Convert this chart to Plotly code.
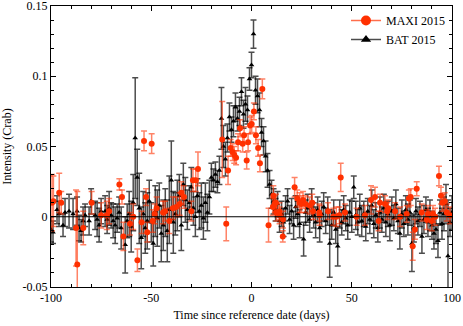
import plotly.graph_objects as go

# MAXI 2015 light curve (days, Crab, 1-sigma)
maxi_day = [-99.5, -98.8, -95.9, -94.9, -87.5, -86.9, -83.9, -79.7, -75.0, -72.2,
            -71.0, -65.9, -64.6, -63.9, -60.6, -59.0, -56.9, -54.8, -53.6, -52.6,
            -52.0, -49.8, -49.3, -48.3, -47.3, -44.1, -43.1, -41.0, -39.2, -37.5,
            -35.8, -35.0, -33.7, -30.0, -29.2, -27.8, -26.7, -14.6, -12.6, -11.7,
            -10.4, -9.4, -8.6, -7.7, -6.7, -5.7, -4.4, -3.7, -2.4, -1.7,
            -0.7, 0.1, 1.2, 2.2, 3.3, 4.2, 5.4, 8.5, 10.7, 10.9,
            11.6, 12.2, 12.4, 13.9, 14.0, 15.6, 15.7, 21.5, 22.8, 24.0,
            24.8, 25.7, 26.9, 29.0, 30.3, 30.7, 33.8, 34.0, 38.2, 40.8,
            42.3, 43.8, 44.5, 46.6, 52.4, 56.6, 59.6, 61.6, 63.4, 64.1,
            66.6, 67.7, 68.2, 71.6, 74.1, 77.4, 78.5, 79.4, 80.4, 81.5,
            82.4, 84.9, 87.4, 88.0, 89.9, 90.5, 91.6, 93.5, 94.5, 95.2,
            96.4, 97.4, 99.0]
maxi_rate = [0.010, 0.011, 0.017, 0.010, -0.008, -0.034, -0.008, 0.010, 0.001, 0.001,
             0.004, 0.023, 0.014, -0.014, -0.005, 0.000, -0.031, -0.004, 0.054, 0.014,
             -0.011, 0.052, -0.003, 0.002, 0.006, 0.003, 0.004, -0.003, 0.006, 0.007,
             0.009, 0.017, 0.014, 0.004, 0.026, 0.026, 0.034, 0.055, -0.005, 0.033,
             0.049, 0.046, 0.044, 0.042, 0.053, 0.063, 0.052, 0.058, 0.040, 0.053,
             0.065, 0.066, 0.075, 0.058, 0.049, 0.038, 0.091, -0.006, 0.007, 0.015,
             0.009, 0.010, 0.003, 0.004, 0.001, -0.014, -0.002, 0.021, 0.013, 0.010,
             0.009, 0.012, 0.009, 0.008, 0.010, 0.004, 0.003, 0.001, 0.004, 0.000,
             0.000, 0.001, 0.028, 0.003, 0.000, 0.001, 0.012, 0.014, -0.003, 0.010,
             0.009, 0.004, 0.006, 0.004, 0.000, 0.002, 0.013, 0.014, -0.021, -0.009,
             0.020, 0.003, -0.002, 0.002, -0.003, 0.002, 0.000, 0.029, 0.015, 0.010,
             0.011, 0.003, 0.001]
maxi_err = [0.020, 0.018, 0.014, 0.008, 0.027, 0.052, 0.012, 0.008, 0.009, 0.010,
            0.009, 0.004, 0.005, 0.010, 0.008, 0.009, 0.008, 0.008, 0.007, 0.006,
            0.007, 0.007, 0.008, 0.007, 0.008, 0.008, 0.007, 0.009, 0.008, 0.007,
            0.008, 0.008, 0.008, 0.007, 0.008, 0.008, 0.012, 0.027, 0.012, 0.010,
            0.006, 0.006, 0.006, 0.005, 0.006, 0.006, 0.006, 0.006, 0.006, 0.006,
            0.006, 0.006, 0.006, 0.006, 0.006, 0.006, 0.007, 0.012, 0.006, 0.007,
            0.006, 0.006, 0.006, 0.006, 0.006, 0.004, 0.006, 0.007, 0.006, 0.007,
            0.006, 0.006, 0.006, 0.006, 0.006, 0.006, 0.006, 0.007, 0.006, 0.006,
            0.007, 0.006, 0.010, 0.006, 0.006, 0.007, 0.010, 0.007, 0.007, 0.006,
            0.006, 0.006, 0.006, 0.006, 0.007, 0.006, 0.006, 0.006, 0.010, 0.007,
            0.005, 0.006, 0.007, 0.006, 0.007, 0.006, 0.006, 0.007, 0.006, 0.006,
            0.006, 0.006, 0.006]

# BAT 2015 light curve
bat_day = [-100, -99, -97, -96, -94, -93, -91, -89, -87, -86,
           -85, -84, -83, -81, -80, -78, -77, -76, -75, -73,
           -72, -71, -70, -69, -68, -67, -66, -65, -63, -62,
           -61, -60, -59, -58, -57, -56, -55, -54, -53, -52,
           -51, -50, -49, -48, -47, -46, -45, -44, -43, -42,
           -41, -40, -39, -38, -37, -36, -35, -34, -33, -32,
           -31, -30, -29, -28, -27, -26, -25, -24, -23, -22,
           -21, -20, -19, -18, -17, -16, -15, -14, -13, -12,
           -11, -10, -9, -8, -7, -6, -5, -4, -3, -2,
           -1, 0, 1, 2, 3, 4, 5, 6, 7, 8,
           9, 10, 11, 12, 13, 14, 15, 16, 17, 18,
           19, 20, 21, 22, 23, 24, 26, 27, 28, 29,
           30, 31, 32, 33, 34, 35, 36, 37, 38, 39,
           40, 41, 42, 43, 44, 45, 46, 47, 48, 49,
           50, 51, 52, 53, 54, 55, 56, 57, 58, 59,
           60, 61, 62, 63, 64, 65, 66, 67, 68, 69,
           70, 71, 72, 73, 74, 75, 76, 77, 78, 79,
           80, 81, 82, 83, 84, 85, 86, 87, 88, 89,
           90, 91, 92, 93, 94, 95, 96, 97, 98, 99,
           100]
bat_rate = [-0.009, -0.011, 0.005, 0.002, -0.006, 0.003, 0.004, 0.002, 0.004, -0.008,
            -0.010, -0.003, 0.001, -0.003, 0.011, 0.001, -0.002, -0.006, 0.004, 0.004,
            -0.002, 0.006, 0.001, -0.003, -0.006, -0.001, 0.003, -0.008, -0.020, -0.003,
            0.002, -0.007, 0.010, 0.056, 0.028, 0.006, -0.015, 0.002, -0.008, -0.003,
            0.011, -0.004, -0.019, 0.004, -0.001, 0.008, -0.012, -0.006, 0.003, -0.010,
            0.005, 0.026, -0.004, 0.002, 0.008, 0.015, -0.006, 0.023, 0.012, 0.005,
            0.010, 0.021, 0.006, 0.000, 0.015, 0.004, 0.008, -0.001, 0.010, 0.003,
            0.014, 0.028, 0.026, 0.030, 0.025, 0.033, 0.070, 0.050, 0.041, 0.056,
            0.071, 0.062, 0.068, 0.078, 0.070, 0.075, 0.089, 0.073, 0.080, 0.076,
            0.098, 0.108, 0.130, 0.090, 0.086, 0.076, 0.060, 0.054, 0.043, 0.033,
            0.023, 0.016, 0.011, 0.005, 0.009, -0.003, 0.002, -0.004, 0.006, 0.011,
            -0.002, 0.004, -0.006, 0.007, 0.002, -0.005, -0.016, 0.003, 0.006, -0.002,
            0.010, 0.001, -0.004, 0.005, -0.008, 0.002, 0.007, -0.003, 0.004, -0.019,
            -0.006, 0.003, -0.009, -0.021, 0.002, -0.004, 0.005, -0.001, -0.006, 0.003,
            0.000, 0.021, 0.001, -0.004, 0.006, -0.003, 0.002, -0.007, 0.004, -0.002,
            0.008, -0.005, 0.001, -0.008, 0.003, -0.002, 0.006, -0.004, 0.002, -0.006,
            0.004, -0.001, 0.009, -0.003, -0.012, 0.002, -0.005, 0.005, -0.002, 0.003,
            -0.019, -0.008, 0.004, -0.003, 0.002, -0.014, -0.002, 0.005, -0.004, 0.001,
            -0.006, -0.012, -0.009, -0.017, 0.003, -0.005, 0.002, 0.009, -0.028, -0.004,
            0.003]
bat_err = [0.009, 0.008, 0.010, 0.009, 0.008, 0.010, 0.012, 0.011, 0.010, 0.009,
           0.008, 0.010, 0.008, 0.010, 0.009, 0.010, 0.012, 0.012, 0.009, 0.011,
           0.010, 0.012, 0.009, 0.012, 0.013, 0.010, 0.011, 0.015, 0.020, 0.012,
           0.016, 0.018, 0.020, 0.043, 0.020, 0.025, 0.022, 0.016, 0.018, 0.020,
           0.015, 0.014, 0.016, 0.018, 0.020, 0.016, 0.020, 0.018, 0.017, 0.022,
           0.024, 0.028, 0.022, 0.015, 0.018, 0.015, 0.018, 0.015, 0.016, 0.014,
           0.012, 0.014, 0.012, 0.014, 0.012, 0.013, 0.016, 0.015, 0.014, 0.013,
           0.012, 0.010, 0.008, 0.009, 0.008, 0.010, 0.022, 0.015, 0.012, 0.010,
           0.010, 0.009, 0.011, 0.010, 0.009, 0.010, 0.010, 0.010, 0.012, 0.010,
           0.008, 0.009, 0.010, 0.010, 0.012, 0.012, 0.010, 0.010, 0.011, 0.012,
           0.010, 0.010, 0.009, 0.008, 0.009, 0.008, 0.009, 0.010, 0.009, 0.009,
           0.010, 0.009, 0.010, 0.008, 0.009, 0.010, 0.012, 0.009, 0.010, 0.009,
           0.010, 0.009, 0.011, 0.009, 0.010, 0.009, 0.010, 0.009, 0.010, 0.024,
           0.010, 0.009, 0.010, 0.014, 0.010, 0.009, 0.010, 0.009, 0.010, 0.009,
           0.011, 0.008, 0.010, 0.009, 0.010, 0.011, 0.009, 0.010, 0.009, 0.010,
           0.011, 0.010, 0.009, 0.010, 0.011, 0.009, 0.010, 0.010, 0.009, 0.011,
           0.010, 0.009, 0.010, 0.009, 0.011, 0.010, 0.009, 0.010, 0.011, 0.009,
           0.020, 0.010, 0.009, 0.010, 0.009, 0.012, 0.010, 0.009, 0.010, 0.011,
           0.010, 0.011, 0.010, 0.012, 0.009, 0.011, 0.012, 0.014, 0.040, 0.010,
           0.012]

y_ticks = [-0.05, 0, 0.05, 0.1, 0.15]
y_labels = ["-0.05", "0", "0.05", "0.1", "0.15"]
x_ticks = [-100, -50, 0, 50, 100]
x_labels = ["-100", "-50", "0", "50", "100"]

RED = "#ff3000"
SERIF = "Liberation Serif, Times New Roman, serif"

fig = go.Figure()

fig.add_trace(go.Scatter(
    x=bat_day, y=bat_rate, mode="markers", showlegend=False,
    marker=dict(symbol="triangle-up", size=5, color="black"),
    error_y=dict(type="data", array=bat_err, color="rgba(0,0,0,0.7)", thickness=1.5, width=3),
))
fig.add_trace(go.Scatter(
    x=maxi_day, y=maxi_rate, mode="markers", showlegend=False,
    marker=dict(symbol="circle", size=6, color=RED),
    error_y=dict(type="data", array=maxi_err, color="rgba(255,48,0,0.6)", thickness=1.5, width=3),
))

# legend entries (gnuplot-style samples)
fig.add_trace(go.Scatter(
    x=[None], y=[None], mode="lines+markers", name="MAXI 2015",
    line=dict(color="rgba(255,48,0,0.7)", width=1.5),
    marker=dict(symbol="circle", size=10, color=RED),
))
fig.add_trace(go.Scatter(
    x=[None], y=[None], mode="lines+markers", name="BAT 2015",
    line=dict(color="rgba(0,0,0,0.7)", width=1.5),
    marker=dict(symbol="triangle-up", size=9, color="black"),
))

fig.add_hline(y=0, line_color="black", line_width=1)

axis_common = dict(
    showline=True, linecolor="black", linewidth=1, mirror="allticks",
    ticks="inside", ticklen=5, tickcolor="black",
    showgrid=False, zeroline=False, automargin=False,
    ticklabeloverflow="allow",
    tickfont=dict(family=SERIF, size=12, color="black"),
)

fig.update_layout(
    width=463, height=326,
    paper_bgcolor="white", plot_bgcolor="white",
    margin=dict(l=51, r=11, t=6, b=39, autoexpand=False),
    font=dict(family=SERIF, size=12, color="black"),
    xaxis=dict(range=[-100, 100], tickvals=x_ticks, ticktext=x_labels,
               minor=dict(dtick=10, ticks="inside", ticklen=3, tickcolor="black"),
               title=dict(text="Time since reference date (days)", standoff=6,
                          font=dict(family=SERIF, size=12)),
               **axis_common),
    yaxis=dict(range=[-0.05, 0.15], tickvals=y_ticks, ticktext=y_labels,
               minor=dict(dtick=0.01, ticks="inside", ticklen=3, tickcolor="black"),
               title=dict(text="Intensity (Crab)", standoff=8,
                          font=dict(family=SERIF, size=12)),
               **axis_common),
    legend=dict(x=0.995, y=1.0, xanchor="right", yanchor="top",
                bgcolor="rgba(0,0,0,0)", font=dict(family=SERIF, size=12),
                tracegroupgap=0, itemwidth=30),
)

# the page body has a default 8px margin; drop it so the figure sits at (0, 0)
fig.write_html("out.html", config={"displayModeBar": False},
               post_script="document.body.style.margin='0';")
